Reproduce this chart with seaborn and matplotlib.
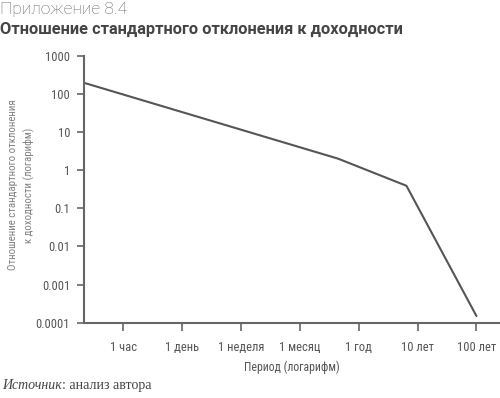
import pandas as pd
import matplotlib.pyplot as plt
import seaborn as sns

# Data
period_labels = ['1 час', '1 день', '1 неделя', '1 месяц', '1 год', '10 лет', '100 лет']
period_pos = [0, 1, 2, 3, 4, 5, 6]
line_x = [-0.67, 3.65, 4.81, 6.0]
line_y = [195, 2.0, 0.39, 0.00015]
ytick_vals = [1000, 100, 10, 1, 0.1, 0.01, 0.001, 0.0001]
ytick_labels = ['1000', '100', '10', '1', '0.1', '0.01', '0.001', '0.0001']

df = pd.DataFrame({'x': line_x, 'y': line_y})

sns.set_style("ticks")
plt.rcParams['font.family'] = ['Roboto Condensed', 'DejaVu Sans']

fig = plt.figure(figsize=(5, 3.98), dpi=100)
ax = fig.add_axes([0.168, 0.189, 0.832, 0.671])

sns.lineplot(data=df, x='x', y='y', color='#555555', linewidth=1.5, ax=ax)
ax.set_yscale('log')
ax.set_ylim(0.0001, 1000)
ax.set_xlim(-0.67, 6.4)

ax.set_yticks(ytick_vals)
ax.set_yticklabels(ytick_labels)
ax.minorticks_off()
ax.set_xticks(period_pos)
ax.set_xticklabels(period_labels)

grey = '#666666'
for side in ['top', 'right']:
    ax.spines[side].set_visible(False)
for side in ['left', 'bottom']:
    ax.spines[side].set_color(grey)
    ax.spines[side].set_linewidth(1.5)
ax.tick_params(axis='y', colors=grey, labelcolor='#555555', labelsize=9, length=5, width=1.2, pad=5)
ax.tick_params(axis='x', colors=grey, labelcolor='#555555', labelsize=9, length=6, width=1.2, pad=7)

ax.set_xlabel('Период (логарифм)', fontsize=8.5, color='#555555', labelpad=5)
ax.set_ylabel('Отношение стандартного отклонения\nк доходности (логарифм)', fontsize=7.8,
              color='#808080', linespacing=1.6)
ax.yaxis.set_label_coords(-0.118, 0.516)

fig.text(0.0, 0.995, 'Приложение 8.4', fontsize=12.5, color='#666666',
         va='top', ha='left', family=['Roboto'], fontweight='light')
fig.text(0.0, 0.945, 'Отношение стандартного отклонения к доходности', fontsize=11.75,
         color='#444444', va='top', ha='left', family=['Roboto'], fontweight='bold')
src = fig.text(0.004, 0.022, 'Источник', fontsize=10, color='#444444', va='baseline', ha='left',
               family=['Liberation Serif'], style='italic')
ax.annotate(': анализ автора', xy=(1, 0), xycoords=src, fontsize=10, color='#444444',
            va='bottom', ha='left', family=['Liberation Serif'], annotation_clip=False)

plt.savefig('out.png', dpi=100)
